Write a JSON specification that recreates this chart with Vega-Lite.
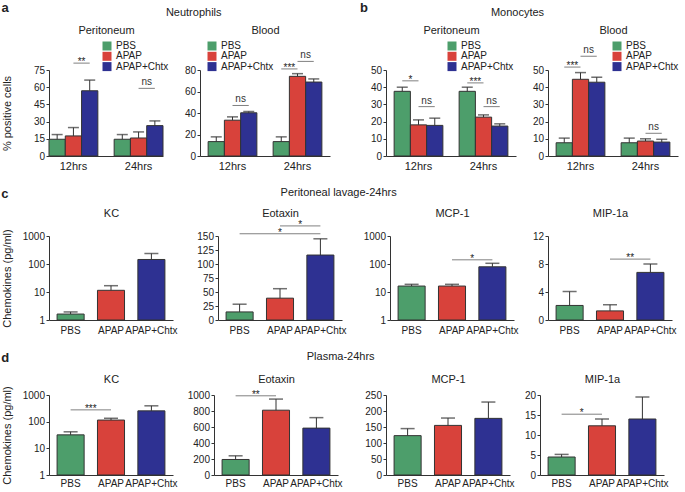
{
 "$schema": "https://vega.github.io/schema/vega-lite/v6.json",
 "padding": {"left": 1, "top": 1, "right": 0, "bottom": 0},
 "config": {
  "font": "Liberation Sans",
  "view": {"stroke": null},
  "axis": {"grid": false, "domainColor": "#333333", "tickColor": "#333333", "labelColor": "#222222", "titleColor": "#222222", "titleFontWeight": "normal", "titleFontSize": 11, "labelFontSize": 10, "tickSize": 3, "labelPadding": 1.5, "labelOverlap": false},
  "title": {"fontWeight": "normal", "fontSize": 11, "color": "#222222"},
  "legend": {"labelFontSize": 10, "symbolType": "square", "symbolSize": 81, "rowPadding": 0.3, "labelOffset": 4, "symbolStrokeWidth": 0, "padding": 0, "labelColor": "#222222"}
 },
 "datasets": {
  "aP": [
   {"pos": "12hrs PBS", "treatment": "PBS", "value": 14.6, "err": 18.7},
   {"pos": "12hrs APAP", "treatment": "APAP", "value": 17.5, "err": 24.8},
   {"pos": "12hrs APAP+Chtx", "treatment": "APAP+Chtx", "value": 56.9, "err": 66.2},
   {"pos": "24hrs PBS", "treatment": "PBS", "value": 14.6, "err": 18.7},
   {"pos": "24hrs APAP", "treatment": "APAP", "value": 15.7, "err": 21.0},
   {"pos": "24hrs APAP+Chtx", "treatment": "APAP+Chtx", "value": 26.5, "err": 30.6}
  ],
  "aP_sig": [
   {"from": "12hrs APAP", "to": "12hrs APAP+Chtx", "y": 81, "label": "**"},
   {"from": "24hrs APAP", "to": "24hrs APAP+Chtx", "y": 59, "label": "ns"}
  ],
  "aB": [
   {"pos": "12hrs PBS", "treatment": "PBS", "value": 13.4, "err": 17.8},
   {"pos": "12hrs APAP", "treatment": "APAP", "value": 33.3, "err": 36.4},
   {"pos": "12hrs APAP+Chtx", "treatment": "APAP+Chtx", "value": 40.2, "err": 41.4},
   {"pos": "24hrs PBS", "treatment": "PBS", "value": 13.4, "err": 17.8},
   {"pos": "24hrs APAP", "treatment": "APAP", "value": 74.1, "err": 76.6},
   {"pos": "24hrs APAP+Chtx", "treatment": "APAP+Chtx", "value": 68.8, "err": 71.7}
  ],
  "aB_sig": [
   {"from": "12hrs APAP", "to": "12hrs APAP+Chtx", "y": 47, "label": "ns"},
   {"from": "24hrs PBS", "to": "24hrs APAP", "y": 81, "label": "***"},
   {"from": "24hrs APAP", "to": "24hrs APAP+Chtx", "y": 88, "label": "ns"}
  ],
  "bP": [
   {"pos": "12hrs PBS", "treatment": "PBS", "value": 37.6, "err": 40.0},
   {"pos": "12hrs APAP", "treatment": "APAP", "value": 18.1, "err": 21.0},
   {"pos": "12hrs APAP+Chtx", "treatment": "APAP+Chtx", "value": 17.8, "err": 22.0},
   {"pos": "24hrs PBS", "treatment": "PBS", "value": 37.6, "err": 40.0},
   {"pos": "24hrs APAP", "treatment": "APAP", "value": 22.6, "err": 23.9},
   {"pos": "24hrs APAP+Chtx", "treatment": "APAP+Chtx", "value": 17.4, "err": 18.7}
  ],
  "bP_sig": [
   {"from": "12hrs PBS", "to": "12hrs APAP", "y": 43.7, "label": "*"},
   {"from": "12hrs APAP", "to": "12hrs APAP+Chtx", "y": 28.7, "label": "ns"},
   {"from": "24hrs PBS", "to": "24hrs APAP", "y": 42.5, "label": "***"},
   {"from": "24hrs APAP", "to": "24hrs APAP+Chtx", "y": 28.7, "label": "ns"}
  ],
  "bB": [
   {"pos": "12hrs PBS", "treatment": "PBS", "value": 7.7, "err": 10.4},
   {"pos": "12hrs APAP", "treatment": "APAP", "value": 44.6, "err": 48.5},
   {"pos": "12hrs APAP+Chtx", "treatment": "APAP+Chtx", "value": 42.9, "err": 45.8},
   {"pos": "24hrs PBS", "treatment": "PBS", "value": 7.7, "err": 10.4},
   {"pos": "24hrs APAP", "treatment": "APAP", "value": 8.7, "err": 10.0},
   {"pos": "24hrs APAP+Chtx", "treatment": "APAP+Chtx", "value": 8.1, "err": 9.7}
  ],
  "bB_sig": [
   {"from": "12hrs PBS", "to": "12hrs APAP", "y": 51.7, "label": "***"},
   {"from": "12hrs APAP", "to": "12hrs APAP+Chtx", "y": 58, "label": "ns"},
   {"from": "24hrs APAP", "to": "24hrs APAP+Chtx", "y": 13.2, "label": "ns"}
  ],
  "cKC": [
   {"treatment": "PBS", "value": 1.63, "err": 1.94},
   {"treatment": "APAP", "value": 11.5, "err": 16.8},
   {"treatment": "APAP+Chtx", "value": 145, "err": 237}
  ],
  "cE": [
   {"treatment": "PBS", "value": 14.4, "err": 28.2},
   {"treatment": "APAP", "value": 39, "err": 55.9},
   {"treatment": "APAP+Chtx", "value": 116, "err": 145}
  ],
  "cE_sig": [
   {"from": "APAP", "to": "APAP+Chtx", "y": 168, "label": "*"},
   {"from": "PBS", "to": "APAP+Chtx", "mid": "APAP", "y": 154, "label": "*"}
  ],
  "cM": [
   {"treatment": "PBS", "value": 16.3, "err": 18.8},
   {"treatment": "APAP", "value": 16.3, "err": 18.8},
   {"treatment": "APAP+Chtx", "value": 79.4, "err": 106}
  ],
  "cM_sig": [
   {"from": "APAP", "to": "APAP+Chtx", "y": 141, "label": "*"}
  ],
  "cMIP": [
   {"treatment": "PBS", "value": 2.08, "err": 4.07},
   {"treatment": "APAP", "value": 1.3, "err": 2.18},
   {"treatment": "APAP+Chtx", "value": 6.8, "err": 8.0}
  ],
  "cMIP_sig": [
   {"from": "APAP", "to": "APAP+Chtx", "y": 8.7, "label": "**"}
  ],
  "dKC": [
   {"treatment": "PBS", "value": 32, "err": 41.7},
   {"treatment": "APAP", "value": 115, "err": 134},
   {"treatment": "APAP+Chtx", "value": 254, "err": 393}
  ],
  "dKC_sig": [
   {"from": "PBS", "to": "APAP", "y": 277, "label": "***"}
  ],
  "dE": [
   {"treatment": "PBS", "value": 194, "err": 240},
   {"treatment": "APAP", "value": 810, "err": 949},
   {"treatment": "APAP+Chtx", "value": 586, "err": 717}
  ],
  "dE_sig": [
   {"from": "PBS", "to": "APAP", "y": 990, "label": "**"}
  ],
  "dM": [
   {"treatment": "PBS", "value": 123, "err": 145},
   {"treatment": "APAP", "value": 155, "err": 178},
   {"treatment": "APAP+Chtx", "value": 177, "err": 228}
  ],
  "dMIP": [
   {"treatment": "PBS", "value": 4.5, "err": 5.15},
   {"treatment": "APAP", "value": 12.3, "err": 14.0},
   {"treatment": "APAP+Chtx", "value": 14.0, "err": 19.5}
  ],
  "dMIP_sig": [
   {"from": "PBS", "to": "APAP", "y": 15.2, "label": "*"}
  ]
 },
 "resolve": {"scale": {"x": "independent", "y": "independent", "color": "independent"}, "legend": {"color": "independent"}},
 "spacing": 15,
 "vconcat": [
  {
   "spacing": 30,
   "resolve": {"scale": {"x": "independent", "y": "independent", "color": "independent"}, "legend": {"color": "independent"}},
   "hconcat": [
    {
     "title": {"text": "a", "anchor": "start", "frame": "bounds", "fontWeight": "bold", "fontSize": 13, "dy": 8, "offset": 0},
     "resolve": {"scale": {"x": "independent", "y": "independent", "color": "independent"}, "legend": {"color": "independent"}},
     "vconcat": [
      {
       "title": {"text": "Neutrophils", "anchor": "middle", "offset": 7, "dx": 28},
       "spacing": 0,
       "resolve": {"scale": {"x": "independent", "y": "independent", "color": "independent"}, "legend": {"color": "independent"}},
       "hconcat": [
        {
         "width": 114, "height": 86,
         "data": {"name": "aP"},
         "resolve": {"axis": {"x": "independent"}},
         "layer": [
          {"mark": {"type": "bar", "stroke": "#333333", "strokeWidth": 1},
           "encoding": {
            "x": {"field": "pos", "type": "nominal", "scale": {"domain": ["12hrs PBS", "12hrs APAP", "12hrs APAP+Chtx", "gap", "24hrs PBS", "24hrs APAP", "24hrs APAP+Chtx"], "paddingInner": 0, "paddingOuter": 0}, "axis": {"title": null, "ticks": false, "labelAngle": 0, "labelFontSize": 11, "labelPadding": 4, "labelExpr": "datum.value == '12hrs APAP' ? '12hrs' : (datum.value == '24hrs APAP' ? '24hrs' : '')"}},
            "y": {"field": "value", "type": "quantitative", "scale": {"domain": [0, 75]}, "axis": {"values": [0, 15, 30, 45, 60, 75], "tickCount": 20, "format": "d", "labelOverlap": false, "title": "% positive cells", "titlePadding": 21, "minExtent": 0}},
            "color": {"field": "treatment", "type": "nominal", "scale": {"domain": ["PBS", "APAP", "APAP+Chtx"], "range": ["#4d9e6b", "#d8423b", "#2e3192"]}, "legend": {"orient": "none", "legendX": 53, "legendY": -29, "title": null, "direction": "vertical"}}
           }},
          {"mark": {"type": "rule", "color": "#333333", "strokeWidth": 1},
           "encoding": {
            "x": {"field": "pos", "type": "nominal", "bandPosition": 0.5, "scale": {"domain": ["12hrs PBS", "12hrs APAP", "12hrs APAP+Chtx", "gap", "24hrs PBS", "24hrs APAP", "24hrs APAP+Chtx"], "paddingInner": 0, "paddingOuter": 0}, "axis": null},
            "y": {"field": "value", "type": "quantitative", "scale": {"domain": [0, 75]}},
            "y2": {"field": "err"}
           }},
          {"mark": {"type": "tick", "color": "#333333", "thickness": 1.5, "size": 11},
           "encoding": {
            "x": {"field": "pos", "type": "nominal", "scale": {"domain": ["12hrs PBS", "12hrs APAP", "12hrs APAP+Chtx", "gap", "24hrs PBS", "24hrs APAP", "24hrs APAP+Chtx"], "paddingInner": 0, "paddingOuter": 0}, "axis": {"orient": "top", "title": "Peritoneum", "labels": false, "ticks": false, "domain": false, "titlePadding": 34.5}},
            "y": {"field": "err", "type": "quantitative", "scale": {"domain": [0, 75]}}
           }},
          {"data": {"name": "aP_sig"},
           "mark": {"type": "rule", "color": "#808080", "strokeWidth": 1},
           "encoding": {
            "x": {"field": "from", "type": "nominal", "bandPosition": 0.5, "scale": {"domain": ["12hrs PBS", "12hrs APAP", "12hrs APAP+Chtx", "gap", "24hrs PBS", "24hrs APAP", "24hrs APAP+Chtx"], "paddingInner": 0, "paddingOuter": 0}, "axis": null},
            "x2": {"field": "to", "bandPosition": 0.5},
            "y": {"field": "y", "type": "quantitative", "scale": {"domain": [0, 75]}}
           }},
          {"data": {"name": "aP_sig"},
           "transform": [{"filter": "datum.label == 'ns'"}],
           "mark": {"type": "text", "fontSize": 10, "dy": -3, "baseline": "alphabetic", "color": "#333333"},
           "encoding": {
            "x": {"field": "to", "type": "nominal", "bandPosition": 0, "scale": {"domain": ["12hrs PBS", "12hrs APAP", "12hrs APAP+Chtx", "gap", "24hrs PBS", "24hrs APAP", "24hrs APAP+Chtx"], "paddingInner": 0, "paddingOuter": 0}, "axis": null},
            "y": {"field": "y", "type": "quantitative", "scale": {"domain": [0, 75]}},
            "text": {"field": "label"}
           }},
          {"data": {"name": "aP_sig"},
           "transform": [{"filter": "datum.label != 'ns'"}],
           "mark": {"type": "text", "fontSize": 10, "dy": 2, "baseline": "alphabetic", "color": "#222222"},
           "encoding": {
            "x": {"field": "to", "type": "nominal", "bandPosition": 0, "scale": {"domain": ["12hrs PBS", "12hrs APAP", "12hrs APAP+Chtx", "gap", "24hrs PBS", "24hrs APAP", "24hrs APAP+Chtx"], "paddingInner": 0, "paddingOuter": 0}, "axis": null},
            "y": {"field": "y", "type": "quantitative", "scale": {"domain": [0, 75]}},
            "text": {"field": "label"}
           }}
         ]
        },
        {
         "width": 130, "height": 86,
         "data": {"name": "aB"},
         "resolve": {"axis": {"x": "independent"}},
         "layer": [
          {"mark": {"type": "bar", "stroke": "#333333", "strokeWidth": 1},
           "encoding": {
            "x": {"field": "pos", "type": "nominal", "scale": {"domain": ["12hrs PBS", "12hrs APAP", "12hrs APAP+Chtx", "gap", "24hrs PBS", "24hrs APAP", "24hrs APAP+Chtx"], "paddingInner": 0, "paddingOuter": 0.5}, "axis": {"title": null, "ticks": false, "labelAngle": 0, "labelFontSize": 11, "labelPadding": 4, "labelExpr": "datum.value == '12hrs APAP' ? '12hrs' : (datum.value == '24hrs APAP' ? '24hrs' : '')"}},
            "y": {"field": "value", "type": "quantitative", "scale": {"domain": [0, 80]}, "axis": {"values": [0, 20, 40, 60, 80], "tickCount": 20, "format": "d", "labelOverlap": false, "title": null, "minExtent": 31}},
            "color": {"field": "treatment", "type": "nominal", "scale": {"domain": ["PBS", "APAP", "APAP+Chtx"], "range": ["#4d9e6b", "#d8423b", "#2e3192"]}, "legend": {"orient": "none", "legendX": 7, "legendY": -29, "title": null, "direction": "vertical"}}
           }},
          {"mark": {"type": "rule", "color": "#333333", "strokeWidth": 1},
           "encoding": {
            "x": {"field": "pos", "type": "nominal", "bandPosition": 0.5, "scale": {"domain": ["12hrs PBS", "12hrs APAP", "12hrs APAP+Chtx", "gap", "24hrs PBS", "24hrs APAP", "24hrs APAP+Chtx"], "paddingInner": 0, "paddingOuter": 0.5}, "axis": null},
            "y": {"field": "value", "type": "quantitative", "scale": {"domain": [0, 80]}},
            "y2": {"field": "err"}
           }},
          {"mark": {"type": "tick", "color": "#333333", "thickness": 1.5, "size": 11},
           "encoding": {
            "x": {"field": "pos", "type": "nominal", "scale": {"domain": ["12hrs PBS", "12hrs APAP", "12hrs APAP+Chtx", "gap", "24hrs PBS", "24hrs APAP", "24hrs APAP+Chtx"], "paddingInner": 0, "paddingOuter": 0.5}, "axis": {"orient": "top", "title": "Blood", "labels": false, "ticks": false, "domain": false, "titlePadding": 34.5}},
            "y": {"field": "err", "type": "quantitative", "scale": {"domain": [0, 80]}}
           }},
          {"data": {"name": "aB_sig"},
           "mark": {"type": "rule", "color": "#808080", "strokeWidth": 1},
           "encoding": {
            "x": {"field": "from", "type": "nominal", "bandPosition": 0.5, "scale": {"domain": ["12hrs PBS", "12hrs APAP", "12hrs APAP+Chtx", "gap", "24hrs PBS", "24hrs APAP", "24hrs APAP+Chtx"], "paddingInner": 0, "paddingOuter": 0.5}, "axis": null},
            "x2": {"field": "to", "bandPosition": 0.5},
            "y": {"field": "y", "type": "quantitative", "scale": {"domain": [0, 80]}}
           }},
          {"data": {"name": "aB_sig"},
           "transform": [{"filter": "datum.label == 'ns'"}],
           "mark": {"type": "text", "fontSize": 10, "dy": -3, "baseline": "alphabetic", "color": "#333333"},
           "encoding": {
            "x": {"field": "to", "type": "nominal", "bandPosition": 0, "scale": {"domain": ["12hrs PBS", "12hrs APAP", "12hrs APAP+Chtx", "gap", "24hrs PBS", "24hrs APAP", "24hrs APAP+Chtx"], "paddingInner": 0, "paddingOuter": 0.5}, "axis": null},
            "y": {"field": "y", "type": "quantitative", "scale": {"domain": [0, 80]}},
            "text": {"field": "label"}
           }},
          {"data": {"name": "aB_sig"},
           "transform": [{"filter": "datum.label != 'ns'"}],
           "mark": {"type": "text", "fontSize": 10, "dy": 2, "baseline": "alphabetic", "color": "#222222"},
           "encoding": {
            "x": {"field": "to", "type": "nominal", "bandPosition": 0, "scale": {"domain": ["12hrs PBS", "12hrs APAP", "12hrs APAP+Chtx", "gap", "24hrs PBS", "24hrs APAP", "24hrs APAP+Chtx"], "paddingInner": 0, "paddingOuter": 0.5}, "axis": null},
            "y": {"field": "y", "type": "quantitative", "scale": {"domain": [0, 80]}},
            "text": {"field": "label"}
           }}
         ]
        }
       ]
      }
     ]
    },
    {
     "title": {"text": "b", "anchor": "start", "frame": "bounds", "fontWeight": "bold", "fontSize": 13, "dy": 8, "dx": -10, "offset": 0},
     "resolve": {"scale": {"x": "independent", "y": "independent", "color": "independent"}, "legend": {"color": "independent"}},
     "vconcat": [
      {
       "title": {"text": "Monocytes", "anchor": "middle", "offset": 7, "dx": -7},
       "spacing": 0,
       "resolve": {"scale": {"x": "independent", "y": "independent", "color": "independent"}, "legend": {"color": "independent"}},
       "hconcat": [
        {
         "width": 130, "height": 86,
         "data": {"name": "bP"},
         "resolve": {"axis": {"x": "independent"}},
         "layer": [
          {"mark": {"type": "bar", "stroke": "#333333", "strokeWidth": 1},
           "encoding": {
            "x": {"field": "pos", "type": "nominal", "scale": {"domain": ["12hrs PBS", "12hrs APAP", "12hrs APAP+Chtx", "gap", "24hrs PBS", "24hrs APAP", "24hrs APAP+Chtx"], "paddingInner": 0, "paddingOuter": 0.5}, "axis": {"title": null, "ticks": false, "labelAngle": 0, "labelFontSize": 11, "labelPadding": 4, "labelExpr": "datum.value == '12hrs APAP' ? '12hrs' : (datum.value == '24hrs APAP' ? '24hrs' : '')"}},
            "y": {"field": "value", "type": "quantitative", "scale": {"domain": [0, 50]}, "axis": {"values": [0, 10, 20, 30, 40, 50], "tickCount": 20, "format": "d", "labelOverlap": false, "title": null, "minExtent": 16}},
            "color": {"field": "treatment", "type": "nominal", "scale": {"domain": ["PBS", "APAP", "APAP+Chtx"], "range": ["#4d9e6b", "#d8423b", "#2e3192"]}, "legend": {"orient": "none", "legendX": 61, "legendY": -29, "title": null, "direction": "vertical"}}
           }},
          {"mark": {"type": "rule", "color": "#333333", "strokeWidth": 1},
           "encoding": {
            "x": {"field": "pos", "type": "nominal", "bandPosition": 0.5, "scale": {"domain": ["12hrs PBS", "12hrs APAP", "12hrs APAP+Chtx", "gap", "24hrs PBS", "24hrs APAP", "24hrs APAP+Chtx"], "paddingInner": 0, "paddingOuter": 0.5}, "axis": null},
            "y": {"field": "value", "type": "quantitative", "scale": {"domain": [0, 50]}},
            "y2": {"field": "err"}
           }},
          {"mark": {"type": "tick", "color": "#333333", "thickness": 1.5, "size": 11},
           "encoding": {
            "x": {"field": "pos", "type": "nominal", "scale": {"domain": ["12hrs PBS", "12hrs APAP", "12hrs APAP+Chtx", "gap", "24hrs PBS", "24hrs APAP", "24hrs APAP+Chtx"], "paddingInner": 0, "paddingOuter": 0.5}, "axis": {"orient": "top", "title": "Peritoneum", "labels": false, "ticks": false, "domain": false, "titlePadding": 34.5}},
            "y": {"field": "err", "type": "quantitative", "scale": {"domain": [0, 50]}}
           }},
          {"data": {"name": "bP_sig"},
           "mark": {"type": "rule", "color": "#808080", "strokeWidth": 1},
           "encoding": {
            "x": {"field": "from", "type": "nominal", "bandPosition": 0.5, "scale": {"domain": ["12hrs PBS", "12hrs APAP", "12hrs APAP+Chtx", "gap", "24hrs PBS", "24hrs APAP", "24hrs APAP+Chtx"], "paddingInner": 0, "paddingOuter": 0.5}, "axis": null},
            "x2": {"field": "to", "bandPosition": 0.5},
            "y": {"field": "y", "type": "quantitative", "scale": {"domain": [0, 50]}}
           }},
          {"data": {"name": "bP_sig"},
           "transform": [{"filter": "datum.label == 'ns'"}],
           "mark": {"type": "text", "fontSize": 10, "dy": -3, "baseline": "alphabetic", "color": "#333333"},
           "encoding": {
            "x": {"field": "to", "type": "nominal", "bandPosition": 0, "scale": {"domain": ["12hrs PBS", "12hrs APAP", "12hrs APAP+Chtx", "gap", "24hrs PBS", "24hrs APAP", "24hrs APAP+Chtx"], "paddingInner": 0, "paddingOuter": 0.5}, "axis": null},
            "y": {"field": "y", "type": "quantitative", "scale": {"domain": [0, 50]}},
            "text": {"field": "label"}
           }},
          {"data": {"name": "bP_sig"},
           "transform": [{"filter": "datum.label != 'ns'"}],
           "mark": {"type": "text", "fontSize": 10, "dy": 2, "baseline": "alphabetic", "color": "#222222"},
           "encoding": {
            "x": {"field": "to", "type": "nominal", "bandPosition": 0, "scale": {"domain": ["12hrs PBS", "12hrs APAP", "12hrs APAP+Chtx", "gap", "24hrs PBS", "24hrs APAP", "24hrs APAP+Chtx"], "paddingInner": 0, "paddingOuter": 0.5}, "axis": null},
            "y": {"field": "y", "type": "quantitative", "scale": {"domain": [0, 50]}},
            "text": {"field": "label"}
           }}
         ]
        },
        {
         "width": 130, "height": 86,
         "data": {"name": "bB"},
         "resolve": {"axis": {"x": "independent"}},
         "layer": [
          {"mark": {"type": "bar", "stroke": "#333333", "strokeWidth": 1},
           "encoding": {
            "x": {"field": "pos", "type": "nominal", "scale": {"domain": ["12hrs PBS", "12hrs APAP", "12hrs APAP+Chtx", "gap", "24hrs PBS", "24hrs APAP", "24hrs APAP+Chtx"], "paddingInner": 0, "paddingOuter": 0.5}, "axis": {"title": null, "ticks": false, "labelAngle": 0, "labelFontSize": 11, "labelPadding": 4, "labelExpr": "datum.value == '12hrs APAP' ? '12hrs' : (datum.value == '24hrs APAP' ? '24hrs' : '')"}},
            "y": {"field": "value", "type": "quantitative", "scale": {"domain": [0, 50]}, "axis": {"values": [0, 10, 20, 30, 40, 50], "tickCount": 20, "format": "d", "labelOverlap": false, "title": null, "minExtent": 32}},
            "color": {"field": "treatment", "type": "nominal", "scale": {"domain": ["PBS", "APAP", "APAP+Chtx"], "range": ["#4d9e6b", "#d8423b", "#2e3192"]}, "legend": {"orient": "none", "legendX": 64, "legendY": -29, "title": null, "direction": "vertical"}}
           }},
          {"mark": {"type": "rule", "color": "#333333", "strokeWidth": 1},
           "encoding": {
            "x": {"field": "pos", "type": "nominal", "bandPosition": 0.5, "scale": {"domain": ["12hrs PBS", "12hrs APAP", "12hrs APAP+Chtx", "gap", "24hrs PBS", "24hrs APAP", "24hrs APAP+Chtx"], "paddingInner": 0, "paddingOuter": 0.5}, "axis": null},
            "y": {"field": "value", "type": "quantitative", "scale": {"domain": [0, 50]}},
            "y2": {"field": "err"}
           }},
          {"mark": {"type": "tick", "color": "#333333", "thickness": 1.5, "size": 11},
           "encoding": {
            "x": {"field": "pos", "type": "nominal", "scale": {"domain": ["12hrs PBS", "12hrs APAP", "12hrs APAP+Chtx", "gap", "24hrs PBS", "24hrs APAP", "24hrs APAP+Chtx"], "paddingInner": 0, "paddingOuter": 0.5}, "axis": {"orient": "top", "title": "Blood", "labels": false, "ticks": false, "domain": false, "titlePadding": 34.5}},
            "y": {"field": "err", "type": "quantitative", "scale": {"domain": [0, 50]}}
           }},
          {"data": {"name": "bB_sig"},
           "mark": {"type": "rule", "color": "#808080", "strokeWidth": 1},
           "encoding": {
            "x": {"field": "from", "type": "nominal", "bandPosition": 0.5, "scale": {"domain": ["12hrs PBS", "12hrs APAP", "12hrs APAP+Chtx", "gap", "24hrs PBS", "24hrs APAP", "24hrs APAP+Chtx"], "paddingInner": 0, "paddingOuter": 0.5}, "axis": null},
            "x2": {"field": "to", "bandPosition": 0.5},
            "y": {"field": "y", "type": "quantitative", "scale": {"domain": [0, 50]}}
           }},
          {"data": {"name": "bB_sig"},
           "transform": [{"filter": "datum.label == 'ns'"}],
           "mark": {"type": "text", "fontSize": 10, "dy": -3, "baseline": "alphabetic", "color": "#333333"},
           "encoding": {
            "x": {"field": "to", "type": "nominal", "bandPosition": 0, "scale": {"domain": ["12hrs PBS", "12hrs APAP", "12hrs APAP+Chtx", "gap", "24hrs PBS", "24hrs APAP", "24hrs APAP+Chtx"], "paddingInner": 0, "paddingOuter": 0.5}, "axis": null},
            "y": {"field": "y", "type": "quantitative", "scale": {"domain": [0, 50]}},
            "text": {"field": "label"}
           }},
          {"data": {"name": "bB_sig"},
           "transform": [{"filter": "datum.label != 'ns'"}],
           "mark": {"type": "text", "fontSize": 10, "dy": 2, "baseline": "alphabetic", "color": "#222222"},
           "encoding": {
            "x": {"field": "to", "type": "nominal", "bandPosition": 0, "scale": {"domain": ["12hrs PBS", "12hrs APAP", "12hrs APAP+Chtx", "gap", "24hrs PBS", "24hrs APAP", "24hrs APAP+Chtx"], "paddingInner": 0, "paddingOuter": 0.5}, "axis": null},
            "y": {"field": "y", "type": "quantitative", "scale": {"domain": [0, 50]}},
            "text": {"field": "label"}
           }}
         ]
        }
       ]
      }
     ]
    }
   ]
  },
  {
   "title": {"text": "c", "anchor": "start", "frame": "bounds", "fontWeight": "bold", "fontSize": 13, "dy": 14, "offset": 0},
   "resolve": {"scale": {"x": "independent", "y": "independent", "color": "independent"}, "legend": {"color": "independent"}},
   "vconcat": [
    {
     "title": {"text": "Peritoneal lavage-24hrs", "anchor": "middle", "offset": 10},
     "spacing": 0,
     "resolve": {"scale": {"x": "independent", "y": "independent", "color": "independent"}, "legend": {"color": "independent"}},
     "hconcat": [
      {
       "width": 124, "height": 84,
       "data": {"name": "cKC"},
       "resolve": {"axis": {"x": "independent"}},
       "layer": [
        {"mark": {"type": "bar", "stroke": "#333333", "strokeWidth": 1},
         "encoding": {
          "x": {"field": "treatment", "type": "nominal", "scale": {"domain": ["PBS", "APAP", "APAP+Chtx"], "paddingInner": 0.33, "paddingOuter": 0.2}, "axis": {"title": null, "ticks": false, "labelAngle": 0, "labelFontSize": 10, "labelPadding": 5}},
          "y": {"field": "value", "type": "quantitative", "scale": {"type": "log", "domain": [1, 1000]}, "axis": {"values": [1, 10, 100, 1000], "tickCount": 20, "format": "d", "labelOverlap": false, "title": "Chemokines (pg/ml)", "titlePadding": 10}},
          "y2": {"datum": 1},
          "color": {"field": "treatment", "type": "nominal", "scale": {"domain": ["PBS", "APAP", "APAP+Chtx"], "range": ["#4d9e6b", "#d8423b", "#2e3192"]}, "legend": null}
         }},
        {"mark": {"type": "rule", "color": "#333333", "strokeWidth": 1},
         "encoding": {
          "x": {"field": "treatment", "type": "nominal", "bandPosition": 0.5, "scale": {"domain": ["PBS", "APAP", "APAP+Chtx"], "paddingInner": 0.33, "paddingOuter": 0.2}, "axis": null},
          "y": {"field": "value", "type": "quantitative", "scale": {"type": "log", "domain": [1, 1000]}},
          "y2": {"field": "err"}
         }},
        {"mark": {"type": "tick", "color": "#333333", "thickness": 1.5, "size": 14},
         "encoding": {
          "x": {"field": "treatment", "type": "nominal", "scale": {"domain": ["PBS", "APAP", "APAP+Chtx"], "paddingInner": 0.33, "paddingOuter": 0.2}, "axis": {"orient": "top", "title": "KC", "labels": false, "ticks": false, "domain": false, "titlePadding": 17.5}},
          "y": {"field": "err", "type": "quantitative", "scale": {"type": "log", "domain": [1, 1000]}}
         }}
       ]
      },
      {
       "width": 124, "height": 84,
       "data": {"name": "cE"},
       "resolve": {"axis": {"x": "independent"}},
       "layer": [
        {"mark": {"type": "bar", "stroke": "#333333", "strokeWidth": 1},
         "encoding": {
          "x": {"field": "treatment", "type": "nominal", "scale": {"domain": ["PBS", "APAP", "APAP+Chtx"], "paddingInner": 0.33, "paddingOuter": 0.2}, "axis": {"title": null, "ticks": false, "labelAngle": 0, "labelFontSize": 10, "labelPadding": 5}},
          "y": {"field": "value", "type": "quantitative", "scale": {"domain": [0, 150]}, "axis": {"values": [0, 25, 50, 75, 100, 125, 150], "tickCount": 20, "format": "d", "labelOverlap": false, "title": null, "minExtent": 40}},
          "color": {"field": "treatment", "type": "nominal", "scale": {"domain": ["PBS", "APAP", "APAP+Chtx"], "range": ["#4d9e6b", "#d8423b", "#2e3192"]}, "legend": null}
         }},
        {"mark": {"type": "rule", "color": "#333333", "strokeWidth": 1},
         "encoding": {
          "x": {"field": "treatment", "type": "nominal", "bandPosition": 0.5, "scale": {"domain": ["PBS", "APAP", "APAP+Chtx"], "paddingInner": 0.33, "paddingOuter": 0.2}, "axis": null},
          "y": {"field": "value", "type": "quantitative", "scale": {"domain": [0, 150]}},
          "y2": {"field": "err"}
         }},
        {"mark": {"type": "tick", "color": "#333333", "thickness": 1.5, "size": 14},
         "encoding": {
          "x": {"field": "treatment", "type": "nominal", "scale": {"domain": ["PBS", "APAP", "APAP+Chtx"], "paddingInner": 0.33, "paddingOuter": 0.2}, "axis": {"orient": "top", "title": "Eotaxin", "labels": false, "ticks": false, "domain": false, "titlePadding": 17.5}},
          "y": {"field": "err", "type": "quantitative", "scale": {"domain": [0, 150]}}
         }},
        {"data": {"name": "cE_sig"},
         "mark": {"type": "rule", "color": "#808080", "strokeWidth": 1},
         "encoding": {
          "x": {"field": "from", "type": "nominal", "bandPosition": 0.5, "scale": {"domain": ["PBS", "APAP", "APAP+Chtx"], "paddingInner": 0.33, "paddingOuter": 0.2}, "axis": null},
          "x2": {"field": "to", "bandPosition": 0.5},
          "y": {"field": "y", "type": "quantitative", "scale": {"domain": [0, 150]}}
         }},
        {"data": {"name": "cE_sig"},
         "transform": [{"filter": "!datum.mid"}],
         "mark": {"type": "text", "fontSize": 10, "dy": 2, "dx": 20.2, "baseline": "alphabetic", "color": "#222222"},
         "encoding": {
          "x": {"field": "from", "type": "nominal", "bandPosition": 0.5, "scale": {"domain": ["PBS", "APAP", "APAP+Chtx"], "paddingInner": 0.33, "paddingOuter": 0.2}, "axis": null},
          "y": {"field": "y", "type": "quantitative", "scale": {"domain": [0, 150]}},
          "text": {"field": "label"}
         }},
        {"data": {"name": "cE_sig"},
         "transform": [{"filter": "datum.mid"}],
         "mark": {"type": "text", "fontSize": 10, "dy": 2, "baseline": "alphabetic", "color": "#222222"},
         "encoding": {
          "x": {"field": "mid", "type": "nominal", "bandPosition": 0.5, "scale": {"domain": ["PBS", "APAP", "APAP+Chtx"], "paddingInner": 0.33, "paddingOuter": 0.2}, "axis": null},
          "y": {"field": "y", "type": "quantitative", "scale": {"domain": [0, 150]}},
          "text": {"field": "label"}
         }}
       ]
      },
      {
       "width": 124, "height": 84,
       "data": {"name": "cM"},
       "resolve": {"axis": {"x": "independent"}},
       "layer": [
        {"mark": {"type": "bar", "stroke": "#333333", "strokeWidth": 1},
         "encoding": {
          "x": {"field": "treatment", "type": "nominal", "scale": {"domain": ["PBS", "APAP", "APAP+Chtx"], "paddingInner": 0.33, "paddingOuter": 0.2}, "axis": {"title": null, "ticks": false, "labelAngle": 0, "labelFontSize": 10, "labelPadding": 5}},
          "y": {"field": "value", "type": "quantitative", "scale": {"type": "log", "domain": [1, 1000]}, "axis": {"values": [1, 10, 100, 1000], "tickCount": 20, "format": "d", "labelOverlap": false, "title": null, "minExtent": 43}},
          "y2": {"datum": 1},
          "color": {"field": "treatment", "type": "nominal", "scale": {"domain": ["PBS", "APAP", "APAP+Chtx"], "range": ["#4d9e6b", "#d8423b", "#2e3192"]}, "legend": null}
         }},
        {"mark": {"type": "rule", "color": "#333333", "strokeWidth": 1},
         "encoding": {
          "x": {"field": "treatment", "type": "nominal", "bandPosition": 0.5, "scale": {"domain": ["PBS", "APAP", "APAP+Chtx"], "paddingInner": 0.33, "paddingOuter": 0.2}, "axis": null},
          "y": {"field": "value", "type": "quantitative", "scale": {"type": "log", "domain": [1, 1000]}},
          "y2": {"field": "err"}
         }},
        {"mark": {"type": "tick", "color": "#333333", "thickness": 1.5, "size": 14},
         "encoding": {
          "x": {"field": "treatment", "type": "nominal", "scale": {"domain": ["PBS", "APAP", "APAP+Chtx"], "paddingInner": 0.33, "paddingOuter": 0.2}, "axis": {"orient": "top", "title": "MCP-1", "labels": false, "ticks": false, "domain": false, "titlePadding": 17.5}},
          "y": {"field": "err", "type": "quantitative", "scale": {"type": "log", "domain": [1, 1000]}}
         }},
        {"data": {"name": "cM_sig"},
         "mark": {"type": "rule", "color": "#808080", "strokeWidth": 1},
         "encoding": {
          "x": {"field": "from", "type": "nominal", "bandPosition": 0.5, "scale": {"domain": ["PBS", "APAP", "APAP+Chtx"], "paddingInner": 0.33, "paddingOuter": 0.2}, "axis": null},
          "x2": {"field": "to", "bandPosition": 0.5},
          "y": {"field": "y", "type": "quantitative", "scale": {"type": "log", "domain": [1, 1000]}}
         }},
        {"data": {"name": "cM_sig"},
         "mark": {"type": "text", "fontSize": 10, "dy": 2, "dx": 20.2, "baseline": "alphabetic", "color": "#222222"},
         "encoding": {
          "x": {"field": "from", "type": "nominal", "bandPosition": 0.5, "scale": {"domain": ["PBS", "APAP", "APAP+Chtx"], "paddingInner": 0.33, "paddingOuter": 0.2}, "axis": null},
          "y": {"field": "y", "type": "quantitative", "scale": {"type": "log", "domain": [1, 1000]}},
          "text": {"field": "label"}
         }}
       ]
      },
      {
       "width": 124, "height": 84,
       "data": {"name": "cMIP"},
       "resolve": {"axis": {"x": "independent"}},
       "layer": [
        {"mark": {"type": "bar", "stroke": "#333333", "strokeWidth": 1},
         "encoding": {
          "x": {"field": "treatment", "type": "nominal", "scale": {"domain": ["PBS", "APAP", "APAP+Chtx"], "paddingInner": 0.33, "paddingOuter": 0.2}, "axis": {"title": null, "ticks": false, "labelAngle": 0, "labelFontSize": 10, "labelPadding": 5}},
          "y": {"field": "value", "type": "quantitative", "scale": {"domain": [0, 12]}, "axis": {"values": [0, 4, 8, 12], "tickCount": 20, "format": "d", "labelOverlap": false, "title": null, "minExtent": 29}},
          "color": {"field": "treatment", "type": "nominal", "scale": {"domain": ["PBS", "APAP", "APAP+Chtx"], "range": ["#4d9e6b", "#d8423b", "#2e3192"]}, "legend": null}
         }},
        {"mark": {"type": "rule", "color": "#333333", "strokeWidth": 1},
         "encoding": {
          "x": {"field": "treatment", "type": "nominal", "bandPosition": 0.5, "scale": {"domain": ["PBS", "APAP", "APAP+Chtx"], "paddingInner": 0.33, "paddingOuter": 0.2}, "axis": null},
          "y": {"field": "value", "type": "quantitative", "scale": {"domain": [0, 12]}},
          "y2": {"field": "err"}
         }},
        {"mark": {"type": "tick", "color": "#333333", "thickness": 1.5, "size": 14},
         "encoding": {
          "x": {"field": "treatment", "type": "nominal", "scale": {"domain": ["PBS", "APAP", "APAP+Chtx"], "paddingInner": 0.33, "paddingOuter": 0.2}, "axis": {"orient": "top", "title": "MIP-1a", "labels": false, "ticks": false, "domain": false, "titlePadding": 17.5}},
          "y": {"field": "err", "type": "quantitative", "scale": {"domain": [0, 12]}}
         }},
        {"data": {"name": "cMIP_sig"},
         "mark": {"type": "rule", "color": "#808080", "strokeWidth": 1},
         "encoding": {
          "x": {"field": "from", "type": "nominal", "bandPosition": 0.5, "scale": {"domain": ["PBS", "APAP", "APAP+Chtx"], "paddingInner": 0.33, "paddingOuter": 0.2}, "axis": null},
          "x2": {"field": "to", "bandPosition": 0.5},
          "y": {"field": "y", "type": "quantitative", "scale": {"domain": [0, 12]}}
         }},
        {"data": {"name": "cMIP_sig"},
         "mark": {"type": "text", "fontSize": 10, "dy": 2, "dx": 20.2, "baseline": "alphabetic", "color": "#222222"},
         "encoding": {
          "x": {"field": "from", "type": "nominal", "bandPosition": 0.5, "scale": {"domain": ["PBS", "APAP", "APAP+Chtx"], "paddingInner": 0.33, "paddingOuter": 0.2}, "axis": null},
          "y": {"field": "y", "type": "quantitative", "scale": {"domain": [0, 12]}},
          "text": {"field": "label"}
         }}
       ]
      }
     ]
    }
   ]
  },
  {
   "title": {"text": "d", "anchor": "start", "frame": "bounds", "fontWeight": "bold", "fontSize": 13, "dy": 14, "offset": 0},
   "resolve": {"scale": {"x": "independent", "y": "independent", "color": "independent"}, "legend": {"color": "independent"}},
   "vconcat": [
    {
     "title": {"text": "Plasma-24hrs", "anchor": "middle", "offset": 12, "dx": 6},
     "spacing": 0,
     "resolve": {"scale": {"x": "independent", "y": "independent", "color": "independent"}, "legend": {"color": "independent"}},
     "hconcat": [
      {
       "width": 124, "height": 80,
       "data": {"name": "dKC"},
       "resolve": {"axis": {"x": "independent"}},
       "layer": [
        {"mark": {"type": "bar", "stroke": "#333333", "strokeWidth": 1},
         "encoding": {
          "x": {"field": "treatment", "type": "nominal", "scale": {"domain": ["PBS", "APAP", "APAP+Chtx"], "paddingInner": 0.33, "paddingOuter": 0.2}, "axis": {"title": null, "ticks": false, "labelAngle": 0, "labelFontSize": 10, "labelPadding": 3}},
          "y": {"field": "value", "type": "quantitative", "scale": {"type": "log", "domain": [1, 1000]}, "axis": {"values": [1, 10, 100, 1000], "tickCount": 20, "format": "d", "labelOverlap": false, "title": "Chemokines (pg/ml)", "titlePadding": 10}},
          "y2": {"datum": 1},
          "color": {"field": "treatment", "type": "nominal", "scale": {"domain": ["PBS", "APAP", "APAP+Chtx"], "range": ["#4d9e6b", "#d8423b", "#2e3192"]}, "legend": null}
         }},
        {"mark": {"type": "rule", "color": "#333333", "strokeWidth": 1},
         "encoding": {
          "x": {"field": "treatment", "type": "nominal", "bandPosition": 0.5, "scale": {"domain": ["PBS", "APAP", "APAP+Chtx"], "paddingInner": 0.33, "paddingOuter": 0.2}, "axis": null},
          "y": {"field": "value", "type": "quantitative", "scale": {"type": "log", "domain": [1, 1000]}},
          "y2": {"field": "err"}
         }},
        {"mark": {"type": "tick", "color": "#333333", "thickness": 1.5, "size": 14},
         "encoding": {
          "x": {"field": "treatment", "type": "nominal", "scale": {"domain": ["PBS", "APAP", "APAP+Chtx"], "paddingInner": 0.33, "paddingOuter": 0.2}, "axis": {"orient": "top", "title": "KC", "labels": false, "ticks": false, "domain": false, "titlePadding": 10.5}},
          "y": {"field": "err", "type": "quantitative", "scale": {"type": "log", "domain": [1, 1000]}}
         }},
        {"data": {"name": "dKC_sig"},
         "mark": {"type": "rule", "color": "#808080", "strokeWidth": 1},
         "encoding": {
          "x": {"field": "from", "type": "nominal", "bandPosition": 0.5, "scale": {"domain": ["PBS", "APAP", "APAP+Chtx"], "paddingInner": 0.33, "paddingOuter": 0.2}, "axis": null},
          "x2": {"field": "to", "bandPosition": 0.5},
          "y": {"field": "y", "type": "quantitative", "scale": {"type": "log", "domain": [1, 1000]}}
         }},
        {"data": {"name": "dKC_sig"},
         "mark": {"type": "text", "fontSize": 10, "dy": 2, "dx": 20.2, "baseline": "alphabetic", "color": "#222222"},
         "encoding": {
          "x": {"field": "from", "type": "nominal", "bandPosition": 0.5, "scale": {"domain": ["PBS", "APAP", "APAP+Chtx"], "paddingInner": 0.33, "paddingOuter": 0.2}, "axis": null},
          "y": {"field": "y", "type": "quantitative", "scale": {"type": "log", "domain": [1, 1000]}},
          "text": {"field": "label"}
         }}
       ]
      },
      {
       "width": 124, "height": 80,
       "data": {"name": "dE"},
       "resolve": {"axis": {"x": "independent"}},
       "layer": [
        {"mark": {"type": "bar", "stroke": "#333333", "strokeWidth": 1},
         "encoding": {
          "x": {"field": "treatment", "type": "nominal", "scale": {"domain": ["PBS", "APAP", "APAP+Chtx"], "paddingInner": 0.33, "paddingOuter": 0.2}, "axis": {"title": null, "ticks": false, "labelAngle": 0, "labelFontSize": 10, "labelPadding": 3}},
          "y": {"field": "value", "type": "quantitative", "scale": {"domain": [0, 1000]}, "axis": {"values": [0, 200, 400, 600, 800, 1000], "tickCount": 20, "format": "d", "labelOverlap": false, "title": null, "minExtent": 36}},
          "color": {"field": "treatment", "type": "nominal", "scale": {"domain": ["PBS", "APAP", "APAP+Chtx"], "range": ["#4d9e6b", "#d8423b", "#2e3192"]}, "legend": null}
         }},
        {"mark": {"type": "rule", "color": "#333333", "strokeWidth": 1},
         "encoding": {
          "x": {"field": "treatment", "type": "nominal", "bandPosition": 0.5, "scale": {"domain": ["PBS", "APAP", "APAP+Chtx"], "paddingInner": 0.33, "paddingOuter": 0.2}, "axis": null},
          "y": {"field": "value", "type": "quantitative", "scale": {"domain": [0, 1000]}},
          "y2": {"field": "err"}
         }},
        {"mark": {"type": "tick", "color": "#333333", "thickness": 1.5, "size": 14},
         "encoding": {
          "x": {"field": "treatment", "type": "nominal", "scale": {"domain": ["PBS", "APAP", "APAP+Chtx"], "paddingInner": 0.33, "paddingOuter": 0.2}, "axis": {"orient": "top", "title": "Eotaxin", "labels": false, "ticks": false, "domain": false, "titlePadding": 10.5}},
          "y": {"field": "err", "type": "quantitative", "scale": {"domain": [0, 1000]}}
         }},
        {"data": {"name": "dE_sig"},
         "mark": {"type": "rule", "color": "#808080", "strokeWidth": 1},
         "encoding": {
          "x": {"field": "from", "type": "nominal", "bandPosition": 0.5, "scale": {"domain": ["PBS", "APAP", "APAP+Chtx"], "paddingInner": 0.33, "paddingOuter": 0.2}, "axis": null},
          "x2": {"field": "to", "bandPosition": 0.5},
          "y": {"field": "y", "type": "quantitative", "scale": {"domain": [0, 1000]}}
         }},
        {"data": {"name": "dE_sig"},
         "mark": {"type": "text", "fontSize": 10, "dy": 2, "dx": 20.2, "baseline": "alphabetic", "color": "#222222"},
         "encoding": {
          "x": {"field": "from", "type": "nominal", "bandPosition": 0.5, "scale": {"domain": ["PBS", "APAP", "APAP+Chtx"], "paddingInner": 0.33, "paddingOuter": 0.2}, "axis": null},
          "y": {"field": "y", "type": "quantitative", "scale": {"domain": [0, 1000]}},
          "text": {"field": "label"}
         }}
       ]
      },
      {
       "width": 124, "height": 80,
       "data": {"name": "dM"},
       "resolve": {"axis": {"x": "independent"}},
       "layer": [
        {"mark": {"type": "bar", "stroke": "#333333", "strokeWidth": 1},
         "encoding": {
          "x": {"field": "treatment", "type": "nominal", "scale": {"domain": ["PBS", "APAP", "APAP+Chtx"], "paddingInner": 0.33, "paddingOuter": 0.2}, "axis": {"title": null, "ticks": false, "labelAngle": 0, "labelFontSize": 10, "labelPadding": 3}},
          "y": {"field": "value", "type": "quantitative", "scale": {"domain": [0, 250]}, "axis": {"values": [0, 50, 100, 150, 200, 250], "tickCount": 20, "format": "d", "labelOverlap": false, "title": null, "minExtent": 43}},
          "color": {"field": "treatment", "type": "nominal", "scale": {"domain": ["PBS", "APAP", "APAP+Chtx"], "range": ["#4d9e6b", "#d8423b", "#2e3192"]}, "legend": null}
         }},
        {"mark": {"type": "rule", "color": "#333333", "strokeWidth": 1},
         "encoding": {
          "x": {"field": "treatment", "type": "nominal", "bandPosition": 0.5, "scale": {"domain": ["PBS", "APAP", "APAP+Chtx"], "paddingInner": 0.33, "paddingOuter": 0.2}, "axis": null},
          "y": {"field": "value", "type": "quantitative", "scale": {"domain": [0, 250]}},
          "y2": {"field": "err"}
         }},
        {"mark": {"type": "tick", "color": "#333333", "thickness": 1.5, "size": 14},
         "encoding": {
          "x": {"field": "treatment", "type": "nominal", "scale": {"domain": ["PBS", "APAP", "APAP+Chtx"], "paddingInner": 0.33, "paddingOuter": 0.2}, "axis": {"orient": "top", "title": "MCP-1", "labels": false, "ticks": false, "domain": false, "titlePadding": 10.5}},
          "y": {"field": "err", "type": "quantitative", "scale": {"domain": [0, 250]}}
         }}
       ]
      },
      {
       "width": 124, "height": 80,
       "data": {"name": "dMIP"},
       "resolve": {"axis": {"x": "independent"}},
       "layer": [
        {"mark": {"type": "bar", "stroke": "#333333", "strokeWidth": 1},
         "encoding": {
          "x": {"field": "treatment", "type": "nominal", "scale": {"domain": ["PBS", "APAP", "APAP+Chtx"], "paddingInner": 0.33, "paddingOuter": 0.2}, "axis": {"title": null, "ticks": false, "labelAngle": 0, "labelFontSize": 10, "labelPadding": 3}},
          "y": {"field": "value", "type": "quantitative", "scale": {"domain": [0, 20]}, "axis": {"values": [0, 5, 10, 15, 20], "tickCount": 20, "format": "d", "labelOverlap": false, "title": null, "minExtent": 25}},
          "color": {"field": "treatment", "type": "nominal", "scale": {"domain": ["PBS", "APAP", "APAP+Chtx"], "range": ["#4d9e6b", "#d8423b", "#2e3192"]}, "legend": null}
         }},
        {"mark": {"type": "rule", "color": "#333333", "strokeWidth": 1},
         "encoding": {
          "x": {"field": "treatment", "type": "nominal", "bandPosition": 0.5, "scale": {"domain": ["PBS", "APAP", "APAP+Chtx"], "paddingInner": 0.33, "paddingOuter": 0.2}, "axis": null},
          "y": {"field": "value", "type": "quantitative", "scale": {"domain": [0, 20]}},
          "y2": {"field": "err"}
         }},
        {"mark": {"type": "tick", "color": "#333333", "thickness": 1.5, "size": 14},
         "encoding": {
          "x": {"field": "treatment", "type": "nominal", "scale": {"domain": ["PBS", "APAP", "APAP+Chtx"], "paddingInner": 0.33, "paddingOuter": 0.2}, "axis": {"orient": "top", "title": "MIP-1a", "labels": false, "ticks": false, "domain": false, "titlePadding": 10.5}},
          "y": {"field": "err", "type": "quantitative", "scale": {"domain": [0, 20]}}
         }},
        {"data": {"name": "dMIP_sig"},
         "mark": {"type": "rule", "color": "#808080", "strokeWidth": 1},
         "encoding": {
          "x": {"field": "from", "type": "nominal", "bandPosition": 0.5, "scale": {"domain": ["PBS", "APAP", "APAP+Chtx"], "paddingInner": 0.33, "paddingOuter": 0.2}, "axis": null},
          "x2": {"field": "to", "bandPosition": 0.5},
          "y": {"field": "y", "type": "quantitative", "scale": {"domain": [0, 20]}}
         }},
        {"data": {"name": "dMIP_sig"},
         "mark": {"type": "text", "fontSize": 10, "dy": 2, "dx": 20.2, "baseline": "alphabetic", "color": "#222222"},
         "encoding": {
          "x": {"field": "from", "type": "nominal", "bandPosition": 0.5, "scale": {"domain": ["PBS", "APAP", "APAP+Chtx"], "paddingInner": 0.33, "paddingOuter": 0.2}, "axis": null},
          "y": {"field": "y", "type": "quantitative", "scale": {"domain": [0, 20]}},
          "text": {"field": "label"}
         }}
       ]
      }
     ]
    }
   ]
  }
 ]
}
